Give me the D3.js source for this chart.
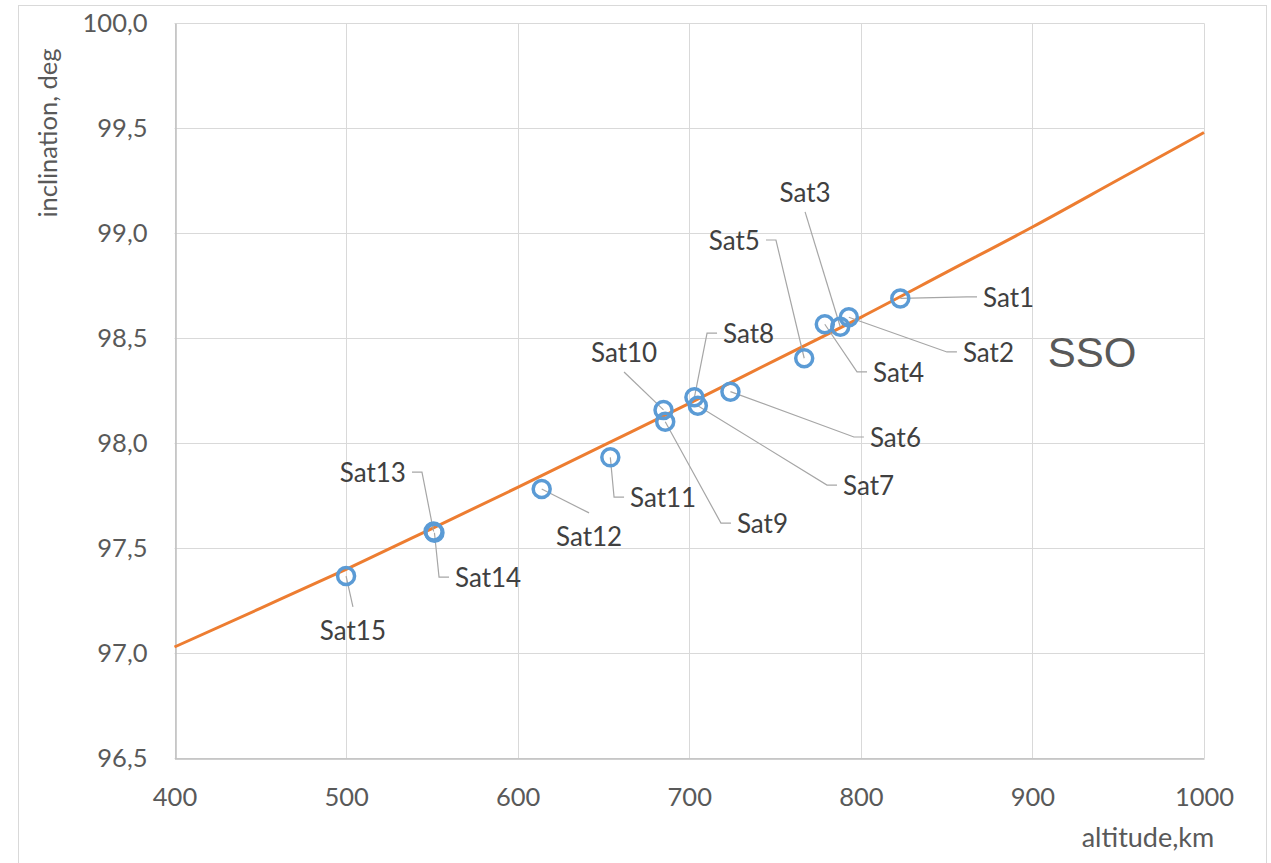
<!DOCTYPE html>
<html>
<head>
<meta charset="utf-8">
<script src="https://cdn.jsdelivr.net/npm/d3@7"></script>
<style>
  html, body { margin: 0; padding: 0; background: #fff; }
  svg { display: block; }
</style>
</head>
<body>
<svg id="chart" width="1271" height="863"></svg>
<script>
// ---- data ----
const satNames = ["Sat1","Sat2","Sat3","Sat4","Sat5","Sat6","Sat7","Sat8","Sat9","Sat10","Sat11","Sat12","Sat13","Sat14","Sat15"];
const satAltitude = [823, 793, 788, 779, 767, 724, 705, 703, 686, 685, 654, 614, 551, 551.5, 500];
const satInclination = [98.69, 98.60, 98.555, 98.567, 98.405, 98.246, 98.179, 98.219, 98.103, 98.159, 97.933, 97.782, 97.58, 97.574, 97.368];
// label anchor (data units) and side of the label the leader attaches to
const labelAltitude = [871.2, 859.5, 767.5, 807.1, 741.2, 805.3, 789.6, 719.7, 727.8, 662.0, 665.5, 641.6, 534.9, 563.5, 504.0];
const labelInclination = [98.697, 98.435, 99.197, 98.340, 98.968, 98.030, 97.801, 98.525, 97.620, 98.435, 97.744, 97.559, 97.863, 97.363, 97.111];
const labelSide = ["left","left","bottom","left","right","left","left","left","left","bottom","left","top","right","left","top"];

const ssoAltitude = [400, 450, 500, 550, 600, 650, 700, 750, 800, 850, 900, 950, 1000];
const ssoInclination = [97.03, 97.214, 97.40, 97.594, 97.79, 97.99, 98.19, 98.395, 98.60, 98.815, 99.03, 99.255, 99.48];

const xTicks = [400, 500, 600, 700, 800, 900, 1000];
const yTicks = [96.5, 97.0, 97.5, 98.0, 98.5, 99.0, 99.5, 100.0];

// ---- layout ----
const svg = d3.select("#chart");
const L = 174.5, R = 1204, T = 23.3, B = 758.3;
const x = d3.scaleLinear().domain([400, 1000]).range([L, R]);
const y = d3.scaleLinear().domain([96.5, 100]).range([B, T]);
const fmt = d => d3.format(".1f")(d).replace(".", ",");
const FONT = "Lato, 'Open Sans', sans-serif";

// outer chart border
svg.append("rect").attr("x", 18.5).attr("y", 5.5).attr("width", 1248).attr("height", 870)
  .attr("fill", "none").attr("stroke", "#d9d9d9").attr("stroke-width", 1);

// grid
const grid = svg.append("g");
grid.selectAll("line.v").data(xTicks).join("line")
  .attr("x1", d => Math.round(x(d)) + 0.5).attr("x2", d => Math.round(x(d)) + 0.5)
  .attr("y1", T).attr("y2", B).attr("stroke", "#d9d9d9").attr("stroke-width", 1);
grid.selectAll("line.h").data(yTicks).join("line")
  .attr("y1", d => Math.round(y(d)) + 0.5).attr("y2", d => Math.round(y(d)) + 0.5)
  .attr("x1", L).attr("x2", R).attr("stroke", "#d9d9d9").attr("stroke-width", 1);

// axes (d3 axes, styled)
const xAxis = svg.append("g").attr("transform", `translate(0,${Math.round(B) + 0.5})`)
  .call(d3.axisBottom(x).tickValues(xTicks).tickSize(0).tickPadding(29).tickFormat(d3.format("d")));
const yAxis = svg.append("g").attr("transform", `translate(${Math.round(L) + 0.5},0)`)
  .call(d3.axisLeft(y).tickValues(yTicks).tickSize(0).tickPadding(28).tickFormat(fmt));
[xAxis, yAxis].forEach(g => {
  g.select(".domain").attr("stroke", "#bfbfbf").attr("stroke-width", 1.5);
  g.selectAll("text").style("font-family", FONT).style("font-size", "25.5px").style("fill", "#595959");
});

// axis titles
svg.append("text").attr("transform", "translate(47,133) rotate(-90)")
  .attr("text-anchor", "middle").attr("dominant-baseline", "central")
  .style("font-family", FONT).style("font-size", "25.5px").style("fill", "#595959")
  .text("inclination, deg");
svg.append("text").attr("x", 1148).attr("y", 847).attr("text-anchor", "middle")
  .style("font-family", FONT).style("font-size", "27px").style("fill", "#595959")
  .text("altitude,km");

// SSO line
const line = d3.line().x(d => x(d[0])).y(d => y(d[1])).curve(d3.curveMonotoneX);
svg.append("path").datum(d3.zip(ssoAltitude, ssoInclination))
  .attr("d", line).attr("fill", "none").attr("stroke", "#ED7D31").attr("stroke-width", 3);

// SSO text
svg.append("text").attr("x", 1092).attr("y", 352).attr("text-anchor", "middle")
  .attr("dominant-baseline", "central")
  .style("font-family", "'Liberation Sans', Arial, sans-serif").style("font-size", "42px").style("fill", "#595959")
  .text("SSO");

// satellites
const sats = satNames.map((n, i) => ({
  name: n, px: x(satAltitude[i]), py: y(satInclination[i]),
  lx: x(labelAltitude[i]), ly: y(labelInclination[i]), side: labelSide[i]
}));

// leaders
const leaderPath = s => {
  if (s.side === "left") {
    return `M${s.px},${s.py} L${s.lx - 16},${s.ly} L${s.lx - 6},${s.ly}`;
  } else if (s.side === "right") {
    return `M${s.px},${s.py} L${s.lx + 16},${s.ly} L${s.lx + 6},${s.ly}`;
  } else if (s.side === "top") {
    return `M${s.px},${s.py} L${s.lx},${s.ly - 23}`;
  } else {
    return `M${s.px},${s.py} L${s.lx},${s.ly + 20}`;
  }
};
svg.append("g").selectAll("path").data(sats).join("path")
  .attr("d", leaderPath).attr("fill", "none").attr("stroke", "#a6a6a6").attr("stroke-width", 1.2);

svg.append("g").selectAll("circle").data(sats).join("circle")
  .attr("cx", d => d.px).attr("cy", d => d.py).attr("r", 8.5)
  .attr("fill", "none").attr("stroke", "#5B9BD5").attr("stroke-width", 3.5);

svg.append("g").selectAll("text").data(sats).join("text")
  .attr("x", d => d.lx).attr("y", d => d.ly)
  .attr("text-anchor", d => d.side === "left" ? "start" : d.side === "right" ? "end" : "middle")
  .attr("dominant-baseline", "central")
  .style("font-family", FONT).style("font-size", "26px").style("fill", "#404040")
  .text(d => d.name);
</script>
</body>
</html>
